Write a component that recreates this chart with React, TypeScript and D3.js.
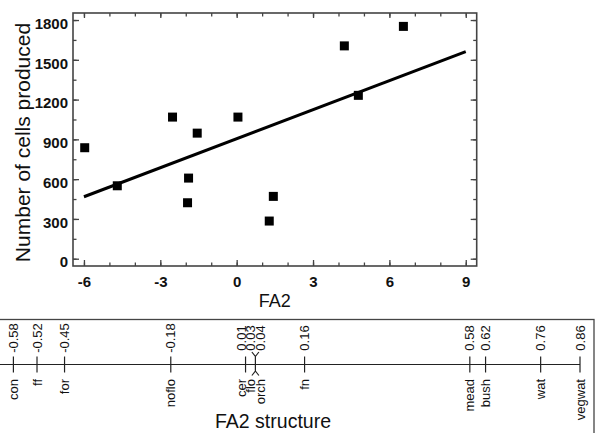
import React, { useEffect, useRef } from 'react';
import * as d3 from 'd3';

// FA2 scores and number of cells produced (one entry per site)
const fa2Scores = [-5.97, -4.69, -2.52, -1.55, -1.89, -1.93, 0.05, 1.44, 1.28, 4.23, 6.55, 4.78];
const cellsProduced = [837, 550, 1068, 947, 608, 422, 1068, 470, 284, 1605, 1752, 1232];
const xTicks = [-6, -3, 0, 3, 6, 9];
const yTicks = [0, 300, 600, 900, 1200, 1500, 1800];
const fitRange = [-6, 9];

// structure variables and their loadings on FA2
const structureNames = ['con', 'ff', 'for', 'noflo', 'cer', 'flo', 'orch', 'fn', 'mead', 'bush', 'wat', 'vegwat'];
const structureLoadings = [-0.58, -0.52, -0.45, -0.18, 0.01, 0.03, 0.04, 0.16, 0.58, 0.62, 0.76, 0.86];
const forkedPair = ['flo', 'orch'];

const W = 598;
const H = 433;
const font = "'Liberation Sans', Arial, Helvetica, sans-serif";

const App = () => {
  const ref = useRef<SVGSVGElement>(null);

  useEffect(() => {
    const svg = d3.select(ref.current);
    svg.selectAll('*').remove();

    // ---------- scatter plot ----------
    const plot = { left: 73, right: 476.7, top: 13, bottom: 266 };
    const x = d3.scaleLinear().domain([-6.43, 9.43]).range([plot.left, plot.right]);
    const y = d3.scaleLinear().domain([-55, 1853]).range([plot.bottom, plot.top]);

    const minorX = d3.range(-6, 9.5, 1);
    const minorY = d3.range(0, 1801, 150);

    const styleAxis = (g: any) => {
      g.select('.domain').remove();
      g.selectAll('.tick line').attr('stroke', '#444').attr('stroke-width', 1.3);
      g.selectAll('.tick text')
        .attr('fill', '#111')
        .style('font-family', font)
        .style('font-size', '15px')
        .style('font-weight', 'bold');
    };
    const noLabel = () => '';

    // major ticks (all pointing inwards)
    svg.append('g')
      .attr('transform', `translate(0,${plot.bottom})`)
      .call(d3.axisBottom(x).tickValues(xTicks).tickSizeInner(-6).tickSizeOuter(0).tickPadding(10).tickFormat((d: any) => String(d)))
      .call(styleAxis);
    svg.append('g')
      .attr('transform', `translate(0,${plot.top})`)
      .call(d3.axisTop(x).tickValues(xTicks).tickSizeInner(-5).tickSizeOuter(0).tickFormat(noLabel))
      .call(styleAxis);
    const left = svg.append('g')
      .attr('transform', `translate(${plot.left},0)`)
      .call(d3.axisLeft(y).tickValues(yTicks).tickSizeInner(-6).tickSizeOuter(0).tickPadding(5).tickFormat((d: any) => String(d)))
      .call(styleAxis);
    left.selectAll('.tick text').attr('dy', '0.55em');
    svg.append('g')
      .attr('transform', `translate(${plot.right},0)`)
      .call(d3.axisRight(y).tickValues(yTicks).tickSizeInner(-6).tickSizeOuter(0).tickFormat(noLabel))
      .call(styleAxis);

    // minor ticks
    svg.append('g').attr('transform', `translate(0,${plot.bottom})`)
      .call(d3.axisBottom(x).tickValues(minorX).tickSizeInner(-3.5).tickSizeOuter(0).tickFormat(noLabel)).call(styleAxis);
    svg.append('g').attr('transform', `translate(0,${plot.top})`)
      .call(d3.axisTop(x).tickValues(minorX).tickSizeInner(-3.5).tickSizeOuter(0).tickFormat(noLabel)).call(styleAxis);
    svg.append('g').attr('transform', `translate(${plot.left},0)`)
      .call(d3.axisLeft(y).tickValues(minorY).tickSizeInner(-3.5).tickSizeOuter(0).tickFormat(noLabel)).call(styleAxis);
    svg.append('g').attr('transform', `translate(${plot.right},0)`)
      .call(d3.axisRight(y).tickValues(minorY).tickSizeInner(-3.5).tickSizeOuter(0).tickFormat(noLabel)).call(styleAxis);

    // frame
    svg.append('rect')
      .attr('x', plot.left).attr('y', plot.top)
      .attr('width', plot.right - plot.left).attr('height', plot.bottom - plot.top)
      .attr('fill', 'none').attr('stroke', '#444').attr('stroke-width', 1.6);

    // least squares fit
    const mx = d3.mean(fa2Scores) as number;
    const my = d3.mean(cellsProduced) as number;
    const sxy = d3.sum(fa2Scores, (v, i) => (v - mx) * (cellsProduced[i] - my));
    const sxx = d3.sum(fa2Scores, v => (v - mx) ** 2);
    const slope = sxy / sxx;
    const fit = (v: number) => my + slope * (v - mx);
    svg.append('path')
      .attr('d', d3.line<number>().x(v => x(v)).y(v => y(fit(v)))(fitRange))
      .attr('stroke', '#000').attr('stroke-width', 3).attr('fill', 'none');

    // squares
    const s = 9;
    svg.append('g').selectAll('rect')
      .data(fa2Scores)
      .join('rect')
      .attr('x', d => x(d) - s / 2)
      .attr('y', (d, i) => y(cellsProduced[i]) - s / 2)
      .attr('width', s).attr('height', s)
      .attr('fill', '#000');

    // axis titles
    svg.append('text')
      .attr('x', (plot.left + plot.right) / 2).attr('y', 307)
      .attr('text-anchor', 'middle')
      .style('font-family', font).style('font-size', '18px').attr('fill', '#111')
      .text('FA2');
    svg.append('text')
      .attr('transform', `translate(30,${(plot.top + plot.bottom) / 2 + 3}) rotate(-90)`)
      .attr('text-anchor', 'middle')
      .style('font-family', font).style('font-size', '21px').attr('fill', '#111')
      .text('Number of cells produced');

    // ---------- structure loadings strip ----------
    const axisY = 364.5;
    const sx = d3.scaleLinear().domain([-0.58, 0.86]).range([13.4, 580]);

    svg.append('rect')
      .attr('x', -2).attr('y', 319.5).attr('width', 596).attr('height', 130)
      .attr('fill', 'none').attr('stroke', '#444').attr('stroke-width', 1.3);

    svg.append('line')
      .attr('x1', 0).attr('x2', sx(0.86)).attr('y1', axisY).attr('y2', axisY)
      .attr('stroke', '#222').attr('stroke-width', 1.2);

    const items = structureNames.map((name, i) => ({ name, v: structureLoadings[i], lx: sx(structureLoadings[i]) }));
    const pair = items.filter(d => forkedPair.includes(d.name));
    const forkX = sx(d3.mean(pair, d => d.v) as number);
    pair.forEach((d, i) => { d.lx = forkX + (i === 0 ? -4.7 : 4.7); });
    // push crowded labels apart (right to left)
    const sorted = [...items].sort((a, b) => a.lx - b.lx);
    for (let i = sorted.length - 2; i >= 0; i--) {
      if (sorted[i + 1].lx - sorted[i].lx < 9.5) sorted[i].lx = sorted[i + 1].lx - 9.5;
    }

    const ticks = svg.append('g').attr('stroke', '#222').attr('stroke-width', 1.2).attr('fill', 'none');
    items.filter(d => !forkedPair.includes(d.name)).forEach(d => {
      ticks.append('line')
        .attr('x1', sx(d.v)).attr('x2', sx(d.v))
        .attr('y1', axisY - 8).attr('y2', axisY + 8);
    });
    ticks.append('path')
      .attr('d', `M${forkX - 3.5},${axisY - 12.5}L${forkX},${axisY - 8}V${axisY + 6.5}L${forkX - 3.5},${axisY + 11}` +
        `M${forkX + 3.5},${axisY - 12.5}L${forkX},${axisY - 8}M${forkX},${axisY + 6.5}L${forkX + 3.5},${axisY + 11}`);

    const labels = svg.append('g')
      .style('font-family', font).style('font-size', '13px').attr('fill', '#111');
    labels.selectAll('text.val')
      .data(items)
      .join('text')
      .attr('class', 'val')
      .attr('transform', d => `translate(${d.lx},338) rotate(-90)`)
      .attr('text-anchor', 'middle')
      .attr('dy', '0.35em')
      .text(d => d3.format('.2f')(d.v).replace('−', '-'));
    labels.selectAll('text.name')
      .data(items)
      .join('text')
      .attr('class', 'name')
      .attr('transform', d => `translate(${d.lx},379) rotate(-90)`)
      .attr('text-anchor', 'end')
      .attr('dy', '0.35em')
      .text(d => d.name);

    svg.append('text')
      .attr('x', 273).attr('y', 428)
      .attr('text-anchor', 'middle')
      .style('font-family', font).style('font-size', '19.5px').attr('fill', '#111')
      .text('FA2 structure');
  }, []);

  return (
    <div style={{ position: 'absolute', left: 0, top: 0 }}>
      <svg ref={ref} width={W} height={H} style={{ display: 'block', background: '#fff' }} />
    </div>
  );
};

export default App;
